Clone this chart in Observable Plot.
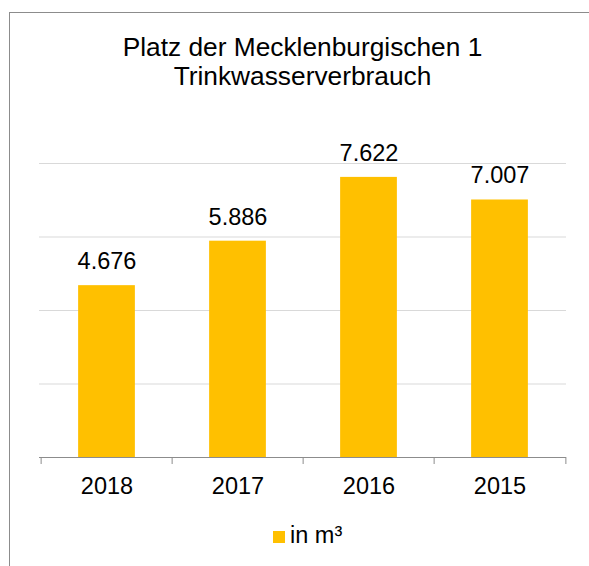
<!DOCTYPE html>
<html>
<head>
<meta charset="utf-8">
<script src="https://cdn.jsdelivr.net/npm/d3@7"></script>
<script src="https://cdn.jsdelivr.net/npm/@observablehq/plot@0.6"></script>
<style>
  html, body { margin: 0; padding: 0; background: #fff; overflow: hidden; }
  body { width: 589px; height: 566px; position: relative; font-family: "Liberation Sans", Arial, sans-serif; }
  #frame { position: absolute; left: 9px; top: 12px; width: 600px; height: 600px; border-top: 1px solid #8c8c8c; border-left: 1px solid #8c8c8c; box-sizing: border-box; }
  #title { position: absolute; left: 0; width: 605px; top: 33px; text-align: center; font-size: 26.3px; line-height: 28.7px; color: #000; }
  #chart { position: absolute; left: 0; top: 100px; }
  #legend { position: absolute; left: 273px; top: 522px; font-size: 23.5px; color: #000; display: flex; align-items: center; }
  #legend .sw { width: 12px; height: 12px; background: #FFC000; margin-right: 5px; margin-top: 3px; }
</style>
</head>
<body>
<div id="frame"></div>
<div id="title">Platz der Mecklenburgischen 1<br>Trinkwasserverbrauch</div>
<div id="chart"></div>
<div id="legend"><div class="sw"></div><span id="legendText"></span></div>
<script>
const years = ["2018", "2017", "2016", "2015"];
const values = [4676, 5886, 7622, 7007];
const yTicks = [2000, 4000, 6000, 8000];
const seriesName = "in m³";

document.getElementById("legendText").textContent = seriesName;

const data = years.map((y, i) => ({year: y, value: values[i]}));
const de = d3.formatLocale({decimal: ",", thousands: ".", grouping: [3], currency: ["", " €"]});
const fmt = de.format(",");

const W = 589, H = 410, mL = 39, mR = 23, mT = 63, mB = 53;
const step = (W - mL - mR) / years.length;
const barW = 57.5;
const inset = (step - barW) / 2;

const chart = Plot.plot({
  width: W,
  height: H,
  marginLeft: mL,
  marginRight: mR,
  marginTop: mT,
  marginBottom: mB,
  style: {fontFamily: "'Liberation Sans', Arial, sans-serif", background: "transparent"},
  x: {domain: years, padding: 0, axis: null},
  y: {domain: [0, 8000], axis: null},
  marks: [
    Plot.ruleY(yTicks, {stroke: "#d9d9d9", strokeWidth: 1, strokeOpacity: 1}),
    Plot.barY(data, {x: "year", y: "value", fill: "#FFC000", insetLeft: inset, insetRight: inset}),
    Plot.ruleY([0], {stroke: "#8c8c8c", strokeWidth: 1}),
    Plot.ruleX(years, {x: d => d, dx: -step / 2, stroke: "#8c8c8c", insetTop: H - mT - mB, insetBottom: -7}),
    Plot.ruleX([years[years.length - 1]], {x: d => d, dx: step / 2, stroke: "#8c8c8c", insetTop: H - mT - mB, insetBottom: -7}),
    Plot.text(data, {x: "year", y: "value", text: d => fmt(d.value), lineAnchor: "bottom", dy: -16.5, fontSize: 23.5, fill: "#000"}),
    Plot.axisX({tickSize: 0, tickPadding: 20, fontSize: 23.5, color: "#000", label: null})
  ]
});
document.getElementById("chart").appendChild(chart);
</script>
</body>
</html>
